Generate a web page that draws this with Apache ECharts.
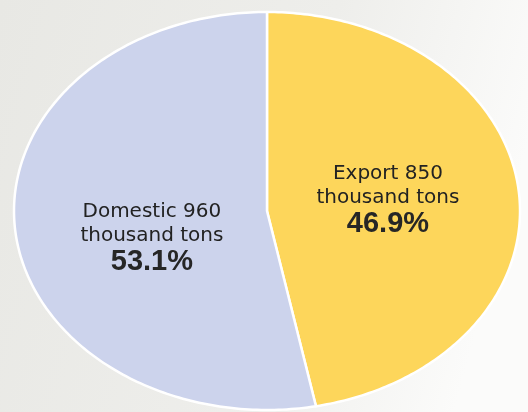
<!DOCTYPE html>
<html>
<head>
<meta charset="utf-8">
<script src="https://cdn.jsdelivr.net/npm/echarts@6/dist/echarts.min.js"></script>
<style>
  html, body { margin: 0; padding: 0; background: #ffffff; }
  #chart { width: 528px; height: 412px; }
</style>
</head>
<body>
<div id="chart"></div>
<script>
// Rice distribution by destination (thousand tons)
const categories = ['Export', 'Domestic'];
const volumes = [850, 960];
const shares = [46.9, 53.1];
const unitLabel = 'thousand tons';

// Slice fills, clockwise from 12 o'clock
const sliceColors = ['#fdd65b', '#ccd3ec'];
// Label anchor (centre of first line, in unit-ellipse coordinates)
const labelAnchors = [[0.478, 0.186], [-0.455, -0.005]];

const chart = echarts.init(document.getElementById('chart'), null, { renderer: 'canvas' });

const total = shares.reduce((a, b) => a + b, 0);

function renderSlice(params, api) {
  const i = params.dataIndex;
  let before = 0;
  for (let k = 0; k < i; k++) before += shares[k];
  const a0 = before / total * Math.PI * 2;
  const a1 = (before + api.value(2)) / total * Math.PI * 2;
  const pts = [api.coord([0, 0])];
  const steps = 200;
  for (let s = 0; s <= steps; s++) {
    const t = a0 + (a1 - a0) * s / steps;
    pts.push(api.coord([Math.sin(t), Math.cos(t)]));
  }
  const anchor = api.coord(labelAnchors[i]);
  const textFill = '#222222';
  return {
    type: 'group',
    children: [
      {
        type: 'polygon',
        shape: { points: pts },
        style: { fill: sliceColors[i], stroke: '#ffffff', lineWidth: 2.5, lineJoin: 'round' }
      },
      {
        type: 'text', x: anchor[0], y: anchor[1],
        style: {
          text: categories[i] + ' ' + volumes[i],
          font: '20px "DejaVu Sans"', fill: textFill, align: 'center', verticalAlign: 'middle'
        }
      },
      {
        type: 'text', x: anchor[0], y: anchor[1] + 23.5,
        style: {
          text: unitLabel,
          font: '20px "DejaVu Sans"', fill: textFill, align: 'center', verticalAlign: 'middle'
        }
      },
      {
        type: 'text', x: anchor[0], y: anchor[1] + 50,
        style: {
          text: api.value(2).toFixed(1) + '%',
          font: 'bold 29px "Liberation Sans"', fill: '#262626', align: 'center', verticalAlign: 'middle'
        }
      }
    ]
  };
}

chart.setOption({
  animation: false,
  backgroundColor: {
    type: 'linear', x: 0, y: 0, x2: 1, y2: 0.35,
    colorStops: [
      { offset: 0, color: '#e8e8e4' },
      { offset: 0.6, color: '#eeeeeb' },
      { offset: 1, color: '#fbfbfa' }
    ]
  },
  grid: { left: 14, right: 8, top: 12, bottom: 2 },
  xAxis: { type: 'value', min: -1, max: 1, show: false },
  yAxis: { type: 'value', min: -1, max: 1, show: false },
  series: [{
    type: 'custom',
    coordinateSystem: 'cartesian2d',
    clip: false,
    encode: { x: 0, y: 1 },
    data: shares.map(s => [0, 0, s]),
    renderItem: renderSlice
  }]
});
</script>
</body>
</html>
